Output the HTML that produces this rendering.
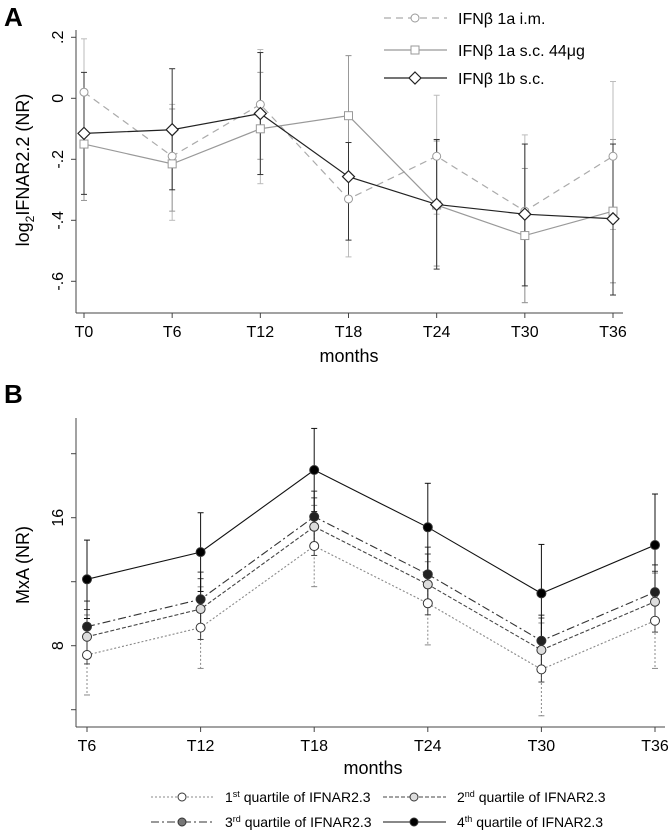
<!DOCTYPE html>
<html><head><meta charset="utf-8"><style>
html,body{margin:0;padding:0;background:#fff;width:672px;height:833px;overflow:hidden}
svg{display:block;font-family:"Liberation Sans",Arial,sans-serif}
</style></head><body>
<svg id="chart" width="672" height="833" viewBox="0 0 672 833"></svg>
<script>
// ---- Panel A data ----
const catsA = ["T0","T6","T12","T18","T24","T30","T36"];
const ticksA = [0.2,0,-0.2,-0.4,-0.6];
const tickLabelsA = [".2","0","-.2","-.4","-.6"];
const imMean = [0.02,-0.19,-0.02,-0.33,-0.19,-0.37,-0.19];
const imHi   = [0.195,-0.02,0.16,0.14,0.01,-0.12,0.055];
const imLo   = [-0.335,-0.40,-0.28,-0.52,-0.38,-0.67,-0.43];
const scMean = [-0.15,-0.215,-0.10,-0.057,-0.35,-0.45,-0.37];
const scHi   = [0.03,-0.035,0.085,0.14,-0.14,-0.23,-0.135];
const scLo   = [-0.335,-0.37,-0.2,-0.25,-0.55,-0.67,-0.605];
const bMean  = [-0.115,-0.103,-0.05,-0.257,-0.348,-0.38,-0.395];
const bHi    = [0.085,0.097,0.15,-0.145,-0.135,-0.15,-0.15];
const bLo    = [-0.315,-0.30,-0.25,-0.465,-0.56,-0.615,-0.645];
// ---- Panel B data ----
const catsB = ["T6","T12","T18","T24","T30","T36"];
const ticksB = [4,8,12,16,20];
const tickLabelsB = ["","8","","16",""];
const q1Mean = [7.42,9.13,14.23,10.65,6.52,9.56];
const q1Err  = [2.5,2.55,2.54,2.6,2.9,2.98];
const q2Mean = [8.56,10.29,15.44,11.83,7.73,10.75];
const q2Err  = [1.7,1.9,1.8,1.9,2.0,1.9];
const q3Mean = [9.19,10.9,16.06,12.46,8.31,11.35];
const q3Err  = [1.6,1.7,1.6,1.7,1.6,1.7];
const q4Mean = [12.15,13.85,18.98,15.4,11.27,14.29];
const q4Err  = [2.45,2.46,2.6,2.75,3.06,3.19];

const svg = document.getElementById('chart');
const NS = 'http://www.w3.org/2000/svg';
function mk(tag, attrs, parent){const e=document.createElementNS(NS,tag);for(const k in attrs)e.setAttribute(k,attrs[k]);(parent||svg).appendChild(e);return e;}
function txt(s,attrs,parent){const e=mk('text',attrs,parent);e.textContent=s;return e;}

// ===== Panel A =====
const xA = i => 84 + i*(613-84)/6;
const yA = v => 98.3 - v*305;
const gA = mk('g',{});


const la = txt('A',{x:4,y:26,'font-size':26,'font-weight':'bold'},gA);


mk('line',{x1:76,y1:30,x2:76,y2:313,stroke:'#444','stroke-width':1},gA);
mk('line',{x1:76,y1:313,x2:623,y2:313,stroke:'#444','stroke-width':1},gA);
ticksA.forEach((t,i)=>{
  const y=yA(t);
  mk('line',{x1:71,y1:y,x2:76,y2:y,stroke:'#444'},gA);
  const l=txt(tickLabelsA[i],{x:0,y:0,'font-size':16,'text-anchor':'middle',transform:`translate(63,${y}) rotate(-90)`},gA);
  
  
});
catsA.forEach((c,i)=>{
  const x=xA(i);
  mk('line',{x1:x,y1:313,x2:x,y2:318,stroke:'#444'},gA);
  const l=txt(c,{x:x,y:337,'font-size':16,'text-anchor':'middle'},gA);
  
  
});
const ytA=txt('',{x:0,y:0,'font-size':18,'text-anchor':'middle',transform:'translate(29,170) rotate(-90)'},gA);
ytA.innerHTML='log<tspan font-size="12" dy="5">2</tspan><tspan dy="-5">IFNAR2.2 (NR)</tspan>';


const xtA=txt('months',{x:349,y:362,'font-size':18,'text-anchor':'middle'},gA);



function errA(mean,hi,lo,color,name){
  mean.forEach((m,i)=>{
    const x=xA(i);
    const g=mk('g',{stroke:color,'stroke-width':1},gA);
    
    
    mk('line',{x1:x,y1:yA(hi[i]),x2:x,y2:yA(lo[i])},g);
    mk('line',{x1:x-3,y1:yA(hi[i]),x2:x+3,y2:yA(hi[i])},g);
    mk('line',{x1:x-3,y1:yA(lo[i]),x2:x+3,y2:yA(lo[i])},g);
  });
}
errA(imMean,imHi,imLo,'#bbb','im');
errA(scMean,scHi,scLo,'#999','sc44');
errA(bMean,bHi,bLo,'#333','1b');
function lineA(mean,color,dash,name){
  const p=mk('polyline',{points:mean.map((m,i)=>xA(i)+','+yA(m)).join(' '),fill:'none',stroke:color,'stroke-width':1.2,'stroke-dasharray':dash},gA);
  
  
}
lineA(imMean,'#aaa','7,5','im');
lineA(scMean,'#999','none','sc44');
lineA(bMean,'#222','none','1b');
function circ(x,y,r,fill,stroke,parent,name){const c=mk('circle',{cx:x,cy:y,r:r,fill:fill,stroke:stroke},parent);return c;}
function sq(x,y,stroke,parent,name){const c=mk('rect',{x:x-4,y:y-4,width:8,height:8,fill:'#fff',stroke:stroke},parent);}
function dia(x,y,stroke,parent,name){const c=mk('polygon',{points:`${x},${y-6} ${x+6},${y} ${x},${y+6} ${x-6},${y}`,fill:'#fff',stroke:stroke,'stroke-width':1.2},parent);}
imMean.forEach((m,i)=>circ(xA(i),yA(m),4,'#fff','#999',gA,'im-point'));
scMean.forEach((m,i)=>sq(xA(i),yA(m),'#999',gA,'sc44-point'));
bMean.forEach((m,i)=>dia(xA(i),yA(m),'#222',gA,'1b-point'));
// legend A
const legA=[["IFNβ 1a i.m.",'#aaa','7,5','c',18],["IFNβ 1a s.c. 44μg",'#999','none','s',50],["IFNβ 1b s.c.",'#222','none','d',78]];
legA.forEach(l=>{
  const g=mk('g',{},gA);
  
  
  mk('line',{x1:384,y1:l[4],x2:447,y2:l[4],stroke:l[1],'stroke-width':1.2,'stroke-dasharray':l[2]},g);
  if(l[3]==='c')circ(415,l[4],4,'#fff','#999',g,'legend-marker');
  else if(l[3]==='s')sq(415,l[4],'#999',g,'legend-marker');
  else dia(415,l[4],'#222',g,'legend-marker');
  txt(l[0],{x:458,y:l[4]+6,'font-size':16},g);
});

// ===== Panel B =====
const xB = i => 87 + i*(655-87)/5;
const yB = v => 645.7 - (v-8)*16;
const gB = mk('g',{});


const lb = txt('B',{x:4,y:403,'font-size':26,'font-weight':'bold'},gB);


mk('line',{x1:76,y1:418,x2:76,y2:727,stroke:'#444'},gB);
mk('line',{x1:76,y1:727,x2:665,y2:727,stroke:'#444'},gB);
ticksB.forEach((t,i)=>{
  const y=yB(t);
  mk('line',{x1:71,y1:y,x2:76,y2:y,stroke:'#444'},gB);
  const l=txt(tickLabelsB[i],{x:0,y:0,'font-size':16,'text-anchor':'middle',transform:`translate(63,${y}) rotate(-90)`},gB);
  
  
});
catsB.forEach((c,i)=>{
  const x=xB(i);
  mk('line',{x1:x,y1:727,x2:x,y2:732,stroke:'#444'},gB);
  const l=txt(c,{x:x,y:751,'font-size':16,'text-anchor':'middle'},gB);
  
  
});
const ytB=txt('MxA (NR)',{x:0,y:0,'font-size':18,'text-anchor':'middle',transform:'translate(29,565) rotate(-90)'},gB);


const xtB=txt('months',{x:373,y:774,'font-size':18,'text-anchor':'middle'},gB);



const seriesB=[
  [q1Mean,q1Err,'#888','2,2','#fff','q1'],
  [q2Mean,q2Err,'#444','4,2','#ddd','q2'],
  [q3Mean,q3Err,'#333','8,3,2,3','#222','q3'],
  [q4Mean,q4Err,'#111','none','#000','q4']
];
seriesB.forEach(s=>{
  s[0].forEach((m,i)=>{
    const x=xB(i);
    const g=mk('g',{stroke:s[2],'stroke-width':1,'stroke-dasharray':s[3]==='2,2'?'2,2':'none'},gB);
    
    
    const hi=m+s[1][i], lo=m-s[1][i];
    mk('line',{x1:x,y1:yB(hi),x2:x,y2:yB(lo)},g);
    mk('line',{x1:x-3,y1:yB(hi),x2:x+3,y2:yB(hi),'stroke-dasharray':'none'},g);
    mk('line',{x1:x-3,y1:yB(lo),x2:x+3,y2:yB(lo),'stroke-dasharray':'none'},g);
  });
});
seriesB.forEach(s=>{
  const p=mk('polyline',{points:s[0].map((m,i)=>xB(i)+','+yB(m)).join(' '),fill:'none',stroke:s[2],'stroke-width':1.1,'stroke-dasharray':s[3]},gB);
  
  
  s[0].forEach((m,i)=>circ(xB(i),yB(m),4.5,s[4],'#333',gB,s[5]+'-point'));
});
// legend B
const legB=[["1","st",151,797,0],["2","nd",383,797,1],["3","rd",151,822,2],["4","th",383,822,3]];
legB.forEach(l=>{
  const s=seriesB[l[4]];
  const g=mk('g',{},gB);
  
  
  mk('line',{x1:l[2],y1:l[3],x2:l[2]+63,y2:l[3],stroke:s[2],'stroke-width':1,'stroke-dasharray':s[3]},g);
  circ(l[2]+31,l[3],4,l[4]===2?'#777':s[4],'#333',g,'legend-marker');
  const t=txt('',{x:l[2]+74,y:l[3]+5,'font-size':14},g);
  t.innerHTML=l[0]+'<tspan font-size="9" dy="-5">'+l[1]+'</tspan><tspan dy="5"> quartile of IFNAR2.3</tspan>';
});
</script>
</body></html>
